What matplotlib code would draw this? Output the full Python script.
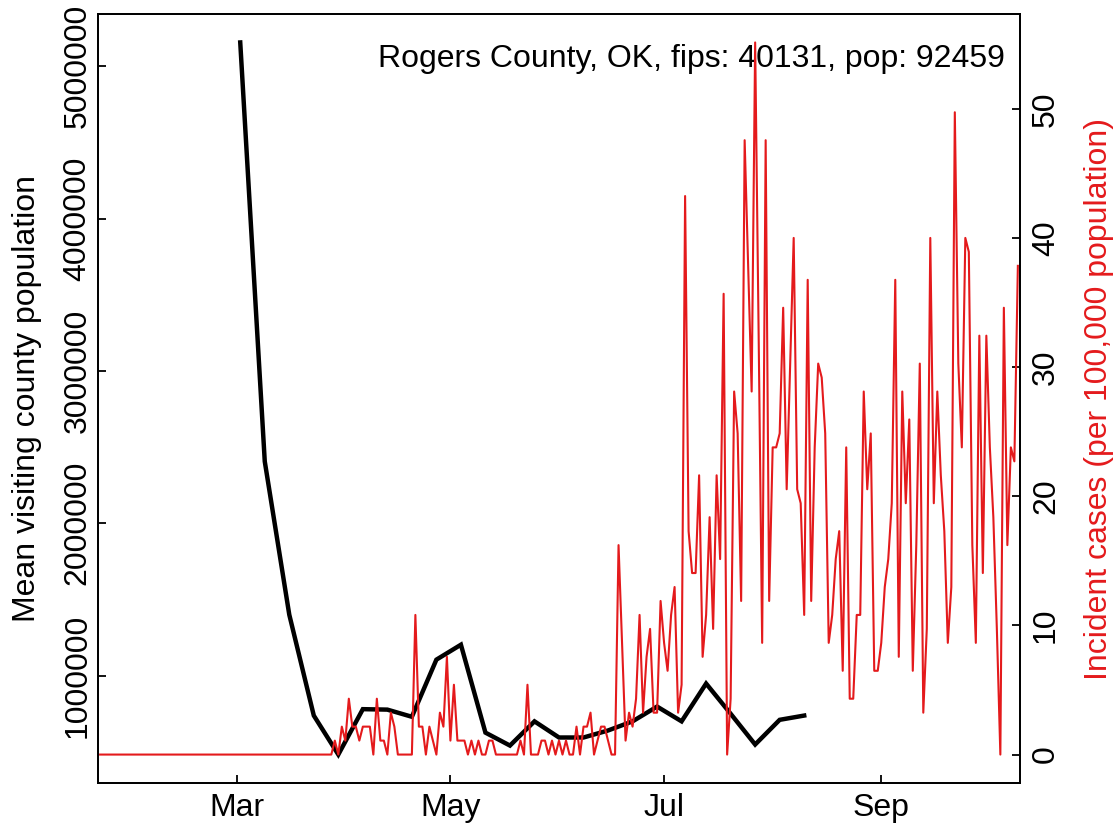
import matplotlib
matplotlib.use("Agg")
import matplotlib.pyplot as plt
import matplotlib.dates as mdates
import matplotlib.ticker as mticker
import pandas as pd

plt.rcParams['font.family'] = ['Liberation Sans', 'DejaVu Sans']

# Rogers County, OK
county_label = "Rogers County, OK, fips: 40131, pop: 92459"
county_pop = 92459

# daily new cases (counts) starting 2020-01-22
case_start = "2020-01-22"
daily_cases = [
    0, 0, 0, 0, 0, 0, 0, 0, 0, 0, 0, 0, 0, 0, 0, 0, 0, 0, 0, 0, 0, 0,
    0, 0, 0, 0, 0, 0, 0, 0, 0, 0, 0, 0, 0, 0, 0, 0, 0, 0, 0, 0, 0, 0,
    0, 0, 0, 0, 0, 0, 0, 0, 0, 0, 0, 0, 0, 0, 0, 0, 0, 0, 0, 0, 0, 0,
    # d66 - d100
    0, 1, 0, 2, 1, 4, 2, 2, 1, 2, 2, 2, 0, 4, 1, 1, 0, 3, 2, 0,
    0, 0, 0, 0, 10, 2, 2, 0, 2, 1, 0, 3, 2, 7, 1,
    # d101 - d134
    5, 1, 1, 1, 0, 1, 0, 1, 0, 0, 1, 1, 0, 0, 0, 0, 0, 0, 0, 1,
    0, 5, 0, 0, 0, 1, 1, 0, 1, 0, 1, 0, 1, 0,
    # d135 - d166
    0, 2, 0, 2, 2, 3, 0, 1, 2, 2, 1, 0, 0, 15, 8, 1, 3, 2, 4, 10,
    3, 7, 9, 3, 3, 11, 8, 6, 10, 12, 3, 5,
    # d167 - d199
    40, 16, 13, 13, 20, 7, 10, 17, 9, 20, 14, 33, 0, 4, 26, 23, 11, 44, 35, 26,
    51, 30, 8, 44, 11, 22, 22, 23, 32, 19, 28, 37, 19,
    # d200 - d231
    18, 10, 34, 11, 22, 28, 27, 23, 8, 10, 14, 16, 6, 22, 4, 4, 10, 10, 26, 19,
    23, 6, 6, 8, 12, 14, 18, 34, 7, 26, 18, 24,
    # d232 - d262
    6, 15, 28, 3, 9, 37, 18, 26, 20, 16, 8, 12, 46, 28, 22, 37, 36, 15, 8, 30,
    13, 30, 22, 17, 9, 0, 32, 15, 22, 21, 35,
]

# weekly mean visiting county population starting 2020-03-02
visit_start = "2020-03-02"
visitor_pop = [
    5156000, 2406000, 1400000, 738000, 482000, 780000, 777000, 730000,
    1105000, 1203000, 626000, 541000, 700000, 594000, 594000, 640000,
    700000, 797000, 700000, 948000, 750000, 548000, 710000, 738000,
]

left_ticks = [1000000, 2000000, 3000000, 4000000, 5000000]
right_ticks = [0, 10, 20, 30, 40, 50]

case_dates = pd.date_range(case_start, periods=len(daily_cases), freq="D")
visit_dates = pd.date_range(visit_start, periods=len(visitor_pop), freq="7D")
incidence = [c * 100000 / county_pop for c in daily_cases]

red = "#E41A1C"
fs = 23


def r_range(vals):
    lo, hi = min(vals), max(vals)
    d = (hi - lo) * 0.04
    return lo - d, hi + d


fig = plt.figure(figsize=(11.19, 8.26), dpi=100)
ax = fig.add_axes([0.0876, 0.052, 0.8239, 0.9311])

ax.plot(visit_dates, visitor_pop, color="black", lw=3.2, solid_joinstyle="miter")
ax.set_ylim(*r_range(visitor_pop))
ax.set_yticks(left_ticks)
ax.yaxis.set_major_formatter(mticker.FuncFormatter(lambda v, p: f"{int(v)}"))
ax.set_ylabel("Mean visiting county population", fontsize=fs)
ax.yaxis.set_label_coords(-0.061, 0.5)

x0 = mdates.date2num(case_dates[0]) - 0.6
x1 = mdates.date2num(case_dates[-1]) + 0.6
ax.set_xlim(x0, x1)
ax.xaxis.set_major_locator(mdates.MonthLocator(bymonth=[3, 5, 7, 9]))
ax.xaxis.set_major_formatter(mdates.DateFormatter("%b"))

ax2 = ax.twinx()
ax2.plot(case_dates, incidence, color=red, lw=1.5)
ax2.set_ylim(*r_range(incidence))
ax2.set_yticks(right_ticks)
ax2.set_xlim(x0, x1)
ax2.set_ylabel("Incident cases (per 100,000 population)", color=red, fontsize=fs)
ax2.yaxis.set_label_coords(1.069, 0.5)

for a in (ax, ax2):
    for s in a.spines.values():
        s.set_linewidth(1.3)
    a.tick_params(direction="in", length=6, width=1.3, labelsize=fs)

ax.tick_params(axis="y", pad=4)
ax.tick_params(axis="x", pad=7)
ax2.tick_params(axis="y", pad=8)
for lab in ax.get_yticklabels():
    lab.set_rotation(90)
    lab.set_va("center")
for lab in ax2.get_yticklabels():
    lab.set_rotation(90)
    lab.set_va("center")

ax.text(0.984, 0.931, county_label, transform=ax.transAxes,
        ha="right", va="baseline", fontsize=fs)

fig.savefig("out.png", dpi=100)
